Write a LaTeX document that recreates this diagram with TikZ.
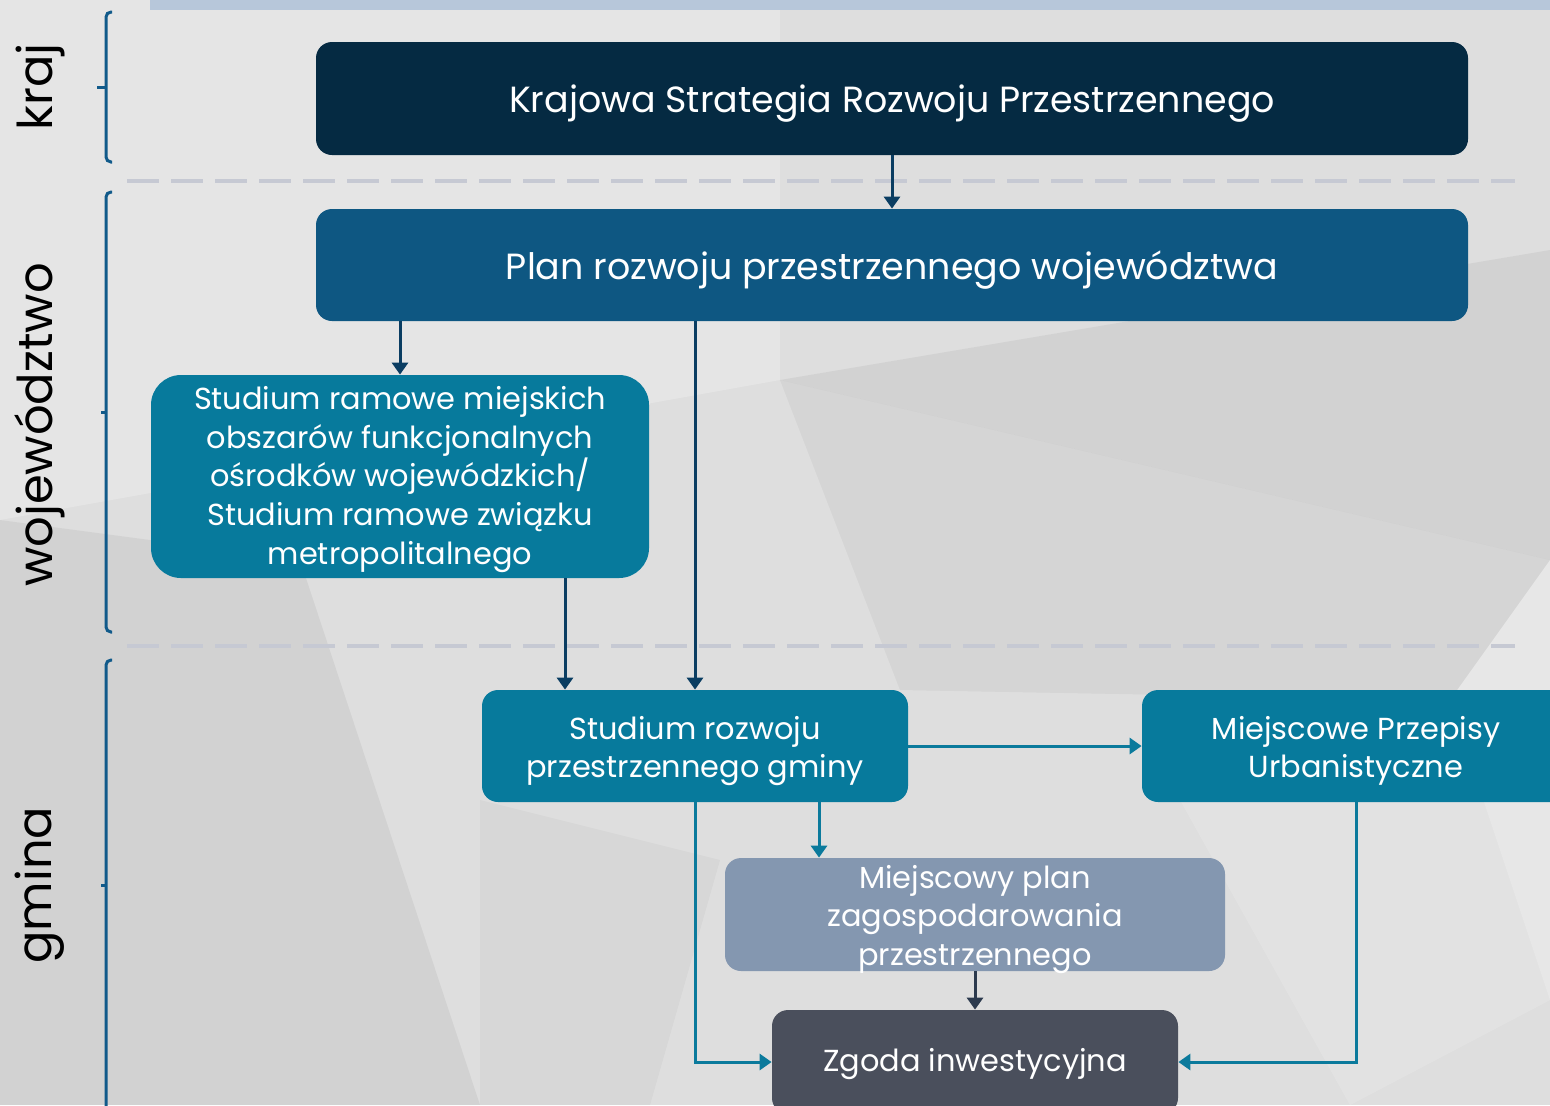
\documentclass[tikz,border=0pt]{standalone}
\usepackage{fontspec}
\setmainfont{Poppins}
\usetikzlibrary{arrows.meta,calc}
\definecolor{bgbase}{HTML}{DEDEDE}
\definecolor{topbar}{HTML}{B7C7DA}
\definecolor{brk}{HTML}{115A8A}
\definecolor{dashc}{HTML}{C6C9D3}
\definecolor{navy}{HTML}{052A42}
\definecolor{midblue}{HTML}{0E5782}
\definecolor{teal}{HTML}{077A9C}
\definecolor{greyblue}{HTML}{8497B0}
\definecolor{slate}{HTML}{4A4F5C}
\definecolor{darrow}{HTML}{0A3D62}
\definecolor{tarrow}{HTML}{0B7A9C}
\definecolor{sarrow}{HTML}{2C3A4E}
\tikzset{
  box/.style={rectangle, rounded corners=8pt, inner sep=0pt},
  txt/.style={text=white, align=center, inner sep=0pt},
  bigtxt/.style={font=\fontsize{18.2}{21}\selectfont},
  midtxt/.style={font=\fontsize{15.2}{19.3}\selectfont},
  arr/.style={line width=1.5pt, -{Triangle[width=8pt,length=6pt]}},
  lvl/.style={rotate=90, font=\fontsize{24}{28}\selectfont, text=black},
  brace/.style={draw=brk, line width=1.5pt, rounded corners=2.5pt},
  sep/.style={draw=dashc, line width=2pt, dash pattern=on 16pt off 6pt}
}
\begin{document}
\begin{tikzpicture}[x=0.5pt,y=-0.5pt]
\useasboundingbox (0,0) rectangle (1550,1105);
\clip (0,0) rectangle (1550,1105);
% background
\fill[bgbase] (0,0) rectangle (1550,1105);
\fill[white,opacity=0.22] (0,0) -- (780,0) -- (780,380) -- (0,520) -- cycle;
\fill[black,opacity=0.05] (780,380) -- (1550,560) -- (1550,250) -- cycle;
\fill[black,opacity=0.04] (780,380) -- (1550,560) -- (1450,700) -- (900,690) -- cycle;
\fill[black,opacity=0.05] (0,520) -- (300,560) -- (480,1105) -- (0,1105) -- cycle;
\fill[white,opacity=0.3] (1450,700) -- (1550,560) -- (1550,1000) -- cycle;
\fill[white,opacity=0.15] (1180,800) -- (1450,700) -- (1550,1000) -- (1350,1105) -- cycle;
\fill[black,opacity=0.03] (480,800) -- (720,860) -- (650,1105) -- (480,1105) -- cycle;
\fill[topbar] (150,0) rectangle (1550,10);
% separators
\draw[sep] (127,181) -- (1515,181);
\draw[sep] (127,646) -- (1515,646);
% level brackets
\draw[brace] (112,12) -- (106,12) -- (106,162) -- (112,162);
\draw[brk, line width=1.5pt] (97,87) -- (106,87);
\draw[brace] (112,192) -- (106,192) -- (106,632) -- (112,632);
\draw[brk, line width=1.5pt] (101,412) -- (106,412);
\draw[brace] (112,660) -- (106,660) -- (106,1120);
\draw[brk, line width=1.5pt] (101,885) -- (106,885);
\node[lvl] (lk) at (40,87) {kraj};
\node[lvl] (lw) at (40,425) {województwo};
\node[lvl] (lg) at (40,885) {gmina};
% boxes
\node[box, fill=navy, minimum width=576pt, minimum height=56.5pt] (b1) at (892,98.5) {};
\node[txt, bigtxt] (b1t) at ([yshift=-2.5pt]b1.center) {Krajowa Strategia Rozwoju Przestrzennego};
\node[box, fill=midblue, minimum width=576pt, minimum height=56pt] (b2) at (892,265) {};
\node[txt, bigtxt] (b2t) at ([yshift=-2.5pt]b2.center) {Plan rozwoju przestrzennego województwa};
\node[box, fill=teal, rounded corners=15pt, minimum width=249pt, minimum height=101.5pt] (b3) at (400,476.5) {};
\node[txt, midtxt] (b3t) at ([yshift=-1.5pt]b3.center) {Studium ramowe miejskich\\obszarów funkcjonalnych\\ośrodków wojewódzkich/\\Studium ramowe związku\\metropolitalnego};
\node[box, fill=teal, minimum width=213pt, minimum height=56pt] (b4) at (695,746) {};
\node[txt, midtxt] (b4t) at ([yshift=-2.5pt]b4.center) {Studium rozwoju\\przestrzennego gminy};
\node[box, fill=teal, minimum width=214pt, minimum height=56pt] (b5) at (1356,746) {};
\node[txt, midtxt] (b5t) at ([yshift=-2.5pt]b5.center) {Miejscowe Przepisy\\Urbanistyczne};
\node[box, fill=greyblue, minimum width=250pt, minimum height=56.5pt] (b6) at (975,914.5) {};
\node[txt, midtxt] (b6t) at ([yshift=-2.5pt]b6.center) {Miejscowy plan\\zagospodarowania\\przestrzennego};
\node[box, fill=slate, minimum width=203pt, minimum height=52pt] (b7) at (975,1062) {};
\node[txt, midtxt] (b7t) at ([yshift=-1.2pt]b7.center) {Zgoda inwestycyjna};
% connectors
\draw[arr, darrow] (b1.south) -- (b2.north);
\draw[arr, darrow] (b3.north |- b2.south) -- (b3.north);
\draw[arr, darrow] (b4.north |- b2.south) -- (b4.north);
\coordinate (p3) at ([xshift=82.5pt]b3.south);
\draw[arr, darrow] (p3) -- (p3 |- b4.north);
\draw[arr, tarrow] (b4.east) -- (b5.west);
\coordinate (p4) at ([xshift=62pt]b4.south);
\draw[arr, tarrow] (p4) -- (p4 |- b6.north);
\draw[arr, tarrow] (b4.south) -- (b4.south |- b7.west) -- (b7.west);
\draw[arr, tarrow] (b5.south) -- (b5.south |- b7.east) -- (b7.east);
\draw[arr, sarrow] (b6.south) -- (b7.north);
\end{tikzpicture}
\end{document}
